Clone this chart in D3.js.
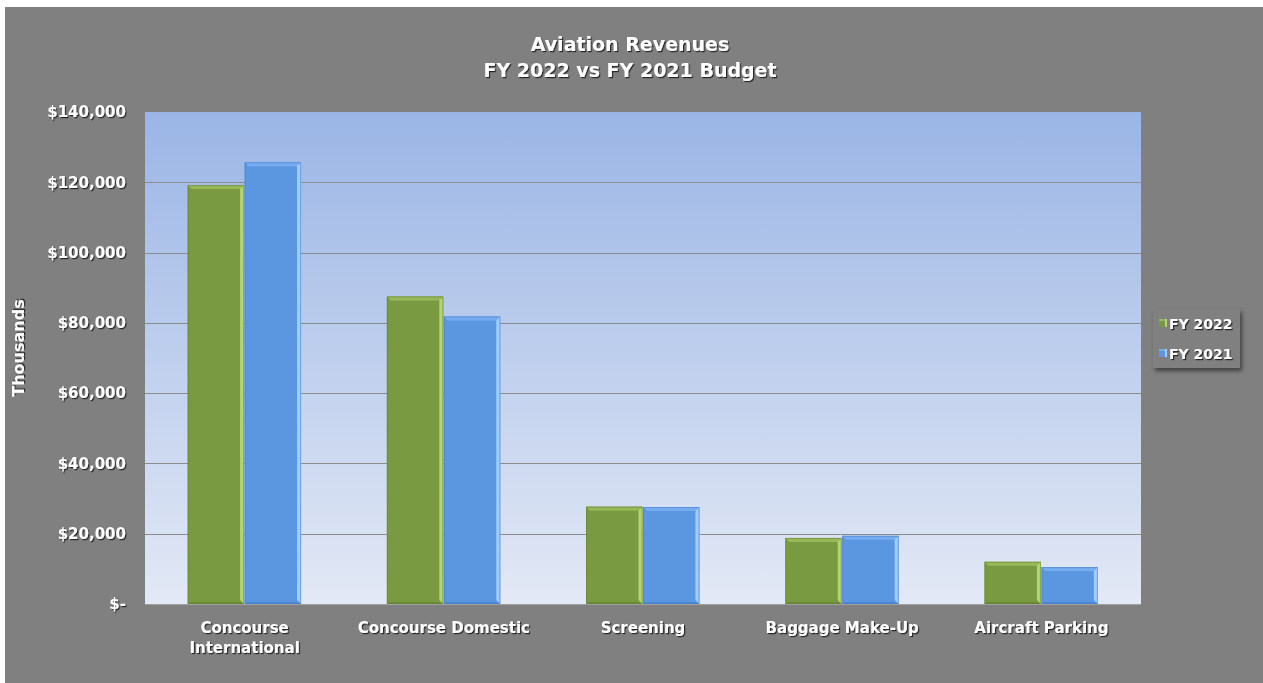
<!DOCTYPE html>
<html>
<head>
<meta charset="utf-8">
<script src="https://cdn.jsdelivr.net/npm/d3@7"></script>
<style>
  html, body { margin: 0; padding: 0; background: #ffffff; }
  svg { display: block; }
  text { font-family: "DejaVu Sans", Verdana, sans-serif; font-weight: bold; fill: #ffffff; }
</style>
</head>
<body>
<script>
// Aviation revenues by category, in thousands of dollars
const categories = ["Concourse International", "Concourse Domestic", "Screening", "Baggage Make-Up", "Aircraft Parking"];
const seriesNames = ["FY 2022", "FY 2021"];
const fy2022 = [119200, 87500, 27700, 18800, 12000];
const fy2021 = [125700, 81800, 27600, 19400, 10500];
const yTicks = [0, 20000, 40000, 60000, 80000, 100000, 120000, 140000];
const titleLines = ["Aviation Revenues", "FY 2022 vs FY 2021 Budget"];

const W = 1263, H = 683;
const plot = { left: 145, right: 1141, top: 112, bottom: 604 };

const palette = {
  "FY 2022": { body: "#7a9a42", top: "#98b95a", side: "#b4d47a", dark: "#5f7c2c" },
  "FY 2021": { body: "#5b97e0", top: "#77adf0", side: "#a2cdff", dark: "#3f78c4" }
};

const svg = d3.select("body").append("svg").attr("width", W).attr("height", H);
const defs = svg.append("defs");

const shadow = defs.append("filter").attr("id", "txtShadow")
  .attr("x", "-10%").attr("y", "-20%").attr("width", "130%").attr("height", "160%");
shadow.append("feDropShadow").attr("dx", 1.2).attr("dy", 1.2).attr("stdDeviation", 0.7)
  .attr("flood-color", "#000").attr("flood-opacity", 0.7);

const boxShadow = defs.append("filter").attr("id", "boxShadow")
  .attr("x", "-20%").attr("y", "-20%").attr("width", "150%").attr("height", "160%");
boxShadow.append("feDropShadow").attr("dx", 2).attr("dy", 3).attr("stdDeviation", 2)
  .attr("flood-color", "#000").attr("flood-opacity", 0.5);

const bg = defs.append("linearGradient").attr("id", "plotBg")
  .attr("x1", 0).attr("y1", 0).attr("x2", 0).attr("y2", 1);
bg.append("stop").attr("offset", "0%").attr("stop-color", "#9ab5e5");
bg.append("stop").attr("offset", "100%").attr("stop-color", "#e3e9f5");

// chart background with thin white frame at top/left
svg.append("rect").attr("x", 5).attr("y", 7).attr("width", W - 5).attr("height", H - 7)
  .attr("fill", "#808080");

// plot area
svg.append("rect")
  .attr("x", plot.left).attr("y", plot.top)
  .attr("width", plot.right - plot.left).attr("height", plot.bottom - plot.top)
  .attr("fill", "url(#plotBg)");

const y = d3.scaleLinear().domain([0, 140000]).range([plot.bottom, plot.top]);
const x0 = d3.scaleBand().domain(categories).range([plot.left, plot.right])
  .paddingInner(0.428).paddingOuter(0.214);
const x1 = d3.scaleBand().domain(seriesNames).range([0, x0.bandwidth()]).padding(0);

// gridlines
svg.append("g").selectAll("line")
  .data(yTicks.filter(t => t > 0 && t < 140000))
  .join("line")
  .attr("x1", plot.left).attr("x2", plot.right)
  .attr("y1", d => Math.round(y(d)) + 0.5).attr("y2", d => Math.round(y(d)) + 0.5)
  .attr("stroke", "#8c8c8c").attr("stroke-width", 1);

// y axis labels
const fmt = d3.format(",");
const yAxis = d3.axisLeft(y).tickValues(yTicks).tickSize(0).tickPadding(0)
  .tickFormat(d => d === 0 ? "$-" : "$" + fmt(d));
const yG = svg.append("g").attr("transform", `translate(${plot.left - 19},0)`).call(yAxis);
yG.select(".domain").remove();
yG.selectAll("text")
  .attr("fill", "#fff").style("font-size", "15px").style("font-family", "DejaVu Sans, Verdana, sans-serif")
  .style("font-weight", "bold").attr("filter", "url(#txtShadow)");

// axis baseline
svg.append("line").attr("x1", plot.left).attr("x2", plot.right)
  .attr("y1", plot.bottom + 0.5).attr("y2", plot.bottom + 0.5)
  .attr("stroke", "#a0a0a0");

// bars with bevelled edges
const rows = categories.map((c, i) => ({ cat: c, vals: [{ s: "FY 2022", v: fy2022[i] }, { s: "FY 2021", v: fy2021[i] }] }));
const groups = svg.append("g").selectAll("g").data(rows).join("g")
  .attr("transform", d => `translate(${x0(d.cat)},0)`);

const bars = groups.selectAll("g.bar").data(d => d.vals).join("g").attr("class", "bar");
const bev = 4;
bars.each(function(d) {
  const g = d3.select(this);
  const bx = x1(d.s), bw = x1.bandwidth() - 0.5, by = y(d.v), bh = y(0) - y(d.v);
  const c = palette[d.s];
  g.append("rect").attr("x", bx).attr("y", by).attr("width", bw).attr("height", bh).attr("fill", c.body);
  // top bevel
  g.append("path").attr("fill", c.top)
    .attr("d", `M${bx},${by}L${bx + bw},${by}L${bx + bw - bev},${by + bev}L${bx + bev},${by + bev}Z`);
  // right bevel
  g.append("path").attr("fill", c.side)
    .attr("d", `M${bx + bw},${by}L${bx + bw},${by + bh}L${bx + bw - bev},${by + bh - bev}L${bx + bw - bev},${by + bev}Z`);
  // bottom bevel
  g.append("path").attr("fill", c.dark).attr("opacity", 0.45)
    .attr("d", `M${bx},${by + bh}L${bx + bev * 0.5},${by + bh - bev * 0.5}L${bx + bw - bev},${by + bh - bev * 0.5}L${bx + bw},${by + bh}Z`);
  g.append("rect").attr("x", bx + 0.5).attr("y", by + 0.5).attr("width", bw - 1).attr("height", bh - 1)
    .attr("fill", "none").attr("stroke", c.dark).attr("stroke-opacity", 0.5);
});

// category labels
const xLabels = {
  "Concourse International": ["Concourse", "International"]
};
svg.append("g").selectAll("text").data(categories).join("text")
  .attr("x", d => x0(d) + x0.bandwidth() / 2)
  .attr("y", 633)
  .attr("text-anchor", "middle")
  .style("font-size", "15px")
  .attr("filter", "url(#txtShadow)")
  .each(function(d) {
    const lines = xLabels[d] || [d];
    d3.select(this).selectAll("tspan").data(lines).join("tspan")
      .attr("x", x0(d) + x0.bandwidth() / 2)
      .attr("dy", (l, i) => i === 0 ? 0 : 20)
      .text(l => l);
  });

// title
svg.append("text").attr("x", 630).attr("y", 51).attr("text-anchor", "middle")
  .style("font-size", "19px").attr("filter", "url(#txtShadow)")
  .selectAll("tspan").data(titleLines).join("tspan")
  .attr("x", 630).attr("dy", (d, i) => i === 0 ? 0 : 26).text(d => d);

// y axis title
svg.append("text")
  .attr("transform", `translate(24,${(plot.top + plot.bottom) / 2 - 10}) rotate(-90)`)
  .attr("text-anchor", "middle").style("font-size", "16px")
  .attr("filter", "url(#txtShadow)").text("Thousands");

// legend
const leg = svg.append("g").attr("transform", "translate(1153,309)");
leg.append("rect").attr("width", 87).attr("height", 59).attr("fill", "#808080")
  .attr("filter", "url(#boxShadow)");
leg.selectAll("g").data(seriesNames).join("g")
  .attr("transform", (d, i) => `translate(6,${15 + i * 30})`)
  .each(function(d) {
    const g = d3.select(this), c = palette[d];
    g.append("rect").attr("x", 0).attr("y", -5).attr("width", 8).attr("height", 8).attr("fill", c.body);
    g.append("rect").attr("x", 0).attr("y", -5).attr("width", 8).attr("height", 2).attr("fill", c.top);
    g.append("rect").attr("x", 6).attr("y", -5).attr("width", 2).attr("height", 8).attr("fill", c.side);
    g.append("text").attr("x", 10).attr("y", 5).style("font-size", "14px")
      .attr("filter", "url(#txtShadow)").text(d);
  });
</script>
</body>
</html>
